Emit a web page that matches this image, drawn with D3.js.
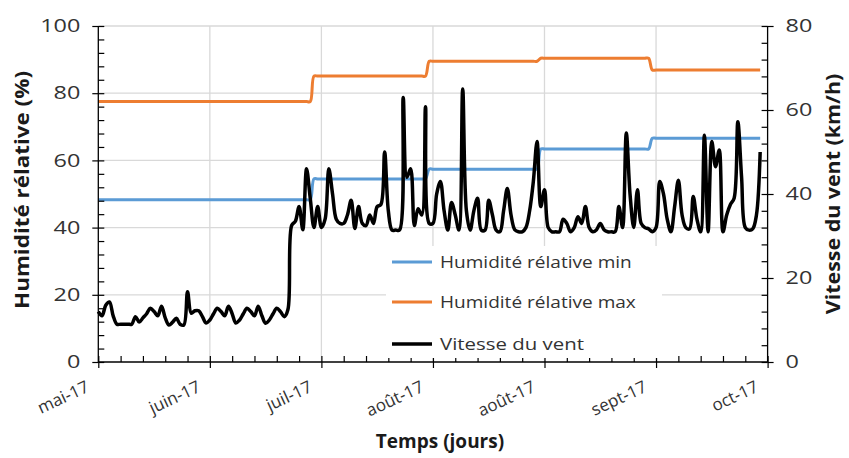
<!DOCTYPE html>
<html><head><meta charset="utf-8">
<script src="https://cdn.jsdelivr.net/npm/d3@7"></script>
<style>
body{margin:0;background:#fff}
svg{display:block}
text{font-family:"Open Sans",sans-serif}
</style>
</head><body>
<svg id="chart" width="849" height="458"></svg>
<script>
// ---- data ----
const xLabels = ["mai-17","juin-17","juil-17","août-17","août-17","sept-17","oct-17"];
const xLabelIndex = [0,30,60,90,120,150,180];
const windSpeed = [
 12,11,13.5,14.3,11,9,9,9,9,9,
 10.8,9.5,10.5,11.5,12.8,12,11,13.3,10.5,8.8,
 9.5,10.4,9,8.8,16.7,11.6,12.2,12.2,10.8,9.3,
 10,11.5,12.8,12,11,13.3,11.5,9.3,10,11.5,
 12.8,12,11,13.3,11,9.2,10,11.5,12.8,12,
 10.8,12.5,32.5,33.5,37,31.5,46,39,32,37,
 32,34,46,40,34,33,33,35,38.5,31.8,
 37,33,32.5,35,33,37,37.5,50,36,31.4,
 31.4,31.4,63,44,46,32.5,36.5,35,60.8,33,
 33,40,43,36,31.4,38,35,31.4,65,36,
 31.4,36,39,31.4,31.4,38.5,35,31.4,31,36,
 41.3,35,31.5,31,31,32,36,43,52.5,37,
 41,32,31,31,31,34,33,31,32,34.6,
 33,37,32,31,31.5,33,31.5,31,31,31,
 37,32,54.5,40,32,41,33,32,31.7,31,
 32,43,40,34,31,37,43.3,35,32,31.7,
 39.4,34,31,54,31,52.5,46.5,50.5,31,35,
 37.5,39,57.2,44,32,31.4,31.7,35,50
];
const humSegmentStart = [0,58,89,119,149];
const humMinLevels = [48.3,54.5,57.4,63.4,66.6];
const humMaxLevels = [77.5,85.1,89.5,90.4,86.9];
const leftTicks = [0,20,40,60,80,100];
const rightTicks = [0,20,40,60,80];
const seriesNames = ["Humidité rélative min","Humidité rélative max","Vitesse du vent"];
const seriesColors = ["#5b9bd5","#ed7d31","#000000"];

// ---- layout ----
const svg = d3.select("#chart");
const L = 98.3, R = 767.6, T = 26, B = 362;
const x = d3.scaleLinear().domain([0,180]).range([L,R]);
const yL = d3.scaleLinear().domain([0,100]).range([B,T]);
const yR = d3.scaleLinear().domain([0,80]).range([B,T]);

function stretch(sel, f){
  sel.each(function(){
    const l = this.getComputedTextLength();
    d3.select(this).attr("textLength", l*f).attr("lengthAdjust","spacingAndGlyphs");
  });
}
function levelAt(arr,i){ let k=0; for(let j=0;j<humSegmentStart.length;j++){ if(i>=humSegmentStart[j]) k=j; } return arr[k]; }
const idx = windSpeed.map((d,i)=>i);
const humMin = idx.map(i=>levelAt(humMinLevels,i));
const humMax = idx.map(i=>levelAt(humMaxLevels,i));

// gridlines
const g = svg.append("g");
g.selectAll(".hg").data(leftTicks.filter(v=>v>0)).enter().append("line")
 .attr("x1",L).attr("x2",R).attr("y1",d=>yL(d)).attr("y2",d=>yL(d))
 .attr("stroke","#d9d9d9").attr("stroke-width",1.3);
g.selectAll(".vg").data(xLabelIndex.filter(v=>v>0&&v<180)).enter().append("line")
 .attr("y1",T).attr("y2",B).attr("x1",d=>x(d)).attr("x2",d=>x(d))
 .attr("stroke","#d9d9d9").attr("stroke-width",1.3);

// lines
const lineL = d3.line().x((d,i)=>x(i)).y(d=>yL(d)).curve(d3.curveCatmullRom);
const lineR = d3.line().x((d,i)=>x(i)).y(d=>yR(d)).curve(d3.curveCatmullRom);
svg.append("path").attr("d",lineL(humMin)).attr("fill","none").attr("stroke",seriesColors[0]).attr("stroke-width",3);
svg.append("path").attr("d",lineL(humMax)).attr("fill","none").attr("stroke",seriesColors[1]).attr("stroke-width",3);
svg.append("path").attr("d",lineR(windSpeed)).attr("fill","none").attr("stroke",seriesColors[2]).attr("stroke-width",3.5).attr("stroke-linejoin","round");

// axes
const axCol = "#000";
function styleAxis(sel){
  sel.select(".domain").remove();
  sel.selectAll(".tick line").attr("stroke",axCol).attr("stroke-width",1.2);
  sel.selectAll("text").attr("fill","#333").attr("font-size",18);
}
// left
const axL = svg.append("g").attr("transform",`translate(${L},0)`)
 .call(d3.axisLeft(yL).tickValues(leftTicks).tickSize(6).tickPadding(12)).call(styleAxis);
stretch(axL.selectAll("text"),1.3);
svg.append("g").attr("transform",`translate(${L},0)`)
 .call(d3.axisRight(yL).tickValues(d3.range(0,101,4)).tickSize(6).tickFormat("")).call(styleAxis);
// right
const axR = svg.append("g").attr("transform",`translate(${R},0)`)
 .call(d3.axisRight(yR).tickValues(rightTicks).tickSize(6).tickPadding(12)).call(styleAxis);
stretch(axR.selectAll("text"),1.3);
svg.append("g").attr("transform",`translate(${R},0)`)
 .call(d3.axisLeft(yR).tickValues(d3.range(0,81,4)).tickSize(6).tickFormat("")).call(styleAxis);
// bottom
svg.append("g").attr("transform",`translate(0,${B})`)
 .call(d3.axisBottom(x).tickValues(xLabelIndex).tickSize(6).tickFormat("")).call(styleAxis);
svg.append("g").attr("transform",`translate(0,${B})`)
 .call(d3.axisTop(x).tickValues(d3.range(0,181,6)).tickSize(6).tickFormat("")).call(styleAxis);
svg.selectAll(".xl").data(xLabelIndex).enter().append("text")
 .attr("transform",(d)=>`translate(${x(d)-8},${B+29}) rotate(-25)`)
 .attr("text-anchor","end").attr("font-size",17).attr("fill","#333")
 .text((d,i)=>xLabels[i]);

// axis lines
svg.append("line").attr("x1",L).attr("x2",L).attr("y1",T).attr("y2",B).attr("stroke",axCol).attr("stroke-width",1.3);
svg.append("line").attr("x1",R).attr("x2",R).attr("y1",T).attr("y2",B).attr("stroke",axCol).attr("stroke-width",1.3);
svg.append("line").attr("x1",L).attr("x2",R).attr("y1",B).attr("y2",B).attr("stroke",axCol).attr("stroke-width",1.3);

// titles
const tL = svg.append("text").attr("transform",`translate(29,190) rotate(-90)`).attr("text-anchor","middle")
 .attr("font-size",20).attr("font-weight","bold").attr("fill","#1a1a1a").text("Humidité rélative (%)");
stretch(tL,1.12);
const tR = svg.append("text").attr("transform",`translate(840,194) rotate(-90)`).attr("text-anchor","middle")
 .attr("font-size",20).attr("font-weight","bold").attr("fill","#1a1a1a").text("Vitesse du vent (km/h)");
stretch(tR,1.07);
svg.append("text").attr("x",440).attr("y",448).attr("text-anchor","middle")
 .attr("font-size",19).attr("font-weight","bold").attr("fill","#1a1a1a").text("Temps (jours)");

// legend
const lg = svg.append("g");
lg.append("rect").attr("x",386).attr("y",246).attr("width",276).attr("height",112).attr("fill","#fff");
const legY = [262,302,344];
const legStretch = [1.12,1.12,1.2];
seriesNames.forEach((n,i)=>{
  lg.append("line").attr("x1",392).attr("x2",432).attr("y1",legY[i]).attr("y2",legY[i])
    .attr("stroke",seriesColors[i]).attr("stroke-width",i==2?3.5:3);
  const t = lg.append("text").attr("x",440).attr("y",legY[i]+6).attr("font-size",17).attr("fill","#333").text(n);
  stretch(t,legStretch[i]);
});
</script>
</body></html>
